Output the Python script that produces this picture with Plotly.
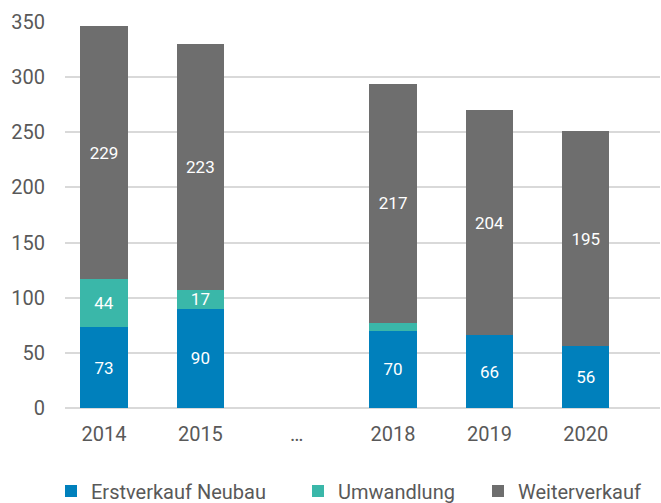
import plotly.graph_objects as go

# Verkäufe nach Art, in Stück
jahre = ["2014", "2015", "…", "2018", "2019", "2020"]
erstverkauf_neubau = [73, 90, None, 70, 66, 56]
umwandlung = [44, 17, None, 7, None, None]
weiterverkauf = [229, 223, None, 217, 204, 195]

# Nur die Werte beschriften, die groß genug für eine Beschriftung sind
umwandlung_text = ["44", "17", "", "", "", ""]

farbe_blau = "#0080BC"
farbe_tuerkis = "#3AB7A9"
farbe_grau = "#6E6E6E"
text_grau = "#595959"
schrift = "Roboto"

W, H = 661, 503


def labels(werte):
    return ["" if v is None else str(v) for v in werte]


fig = go.Figure()
fig.add_trace(go.Bar(
    name="Erstverkauf Neubau", x=jahre, y=erstverkauf_neubau,
    marker=dict(color=farbe_blau, line=dict(width=0)),
    text=labels(erstverkauf_neubau), legend="legend",
))
fig.add_trace(go.Bar(
    name="Umwandlung", x=jahre, y=umwandlung,
    marker=dict(color=farbe_tuerkis, line=dict(width=0)),
    text=umwandlung_text, legend="legend2",
))
fig.add_trace(go.Bar(
    name="Weiterverkauf", x=jahre, y=weiterverkauf,
    marker=dict(color=farbe_grau, line=dict(width=0)),
    text=labels(weiterverkauf), legend="legend3",
))
fig.update_traces(
    textposition="inside", insidetextanchor="middle",
    constraintext="none", showlegend=True,
    textfont=dict(family=schrift, size=17, color="white"),
    textangle=0, hoverinfo="skip",
)


def legende(links_px):
    # eine Legende pro Reihe, frei in Pixeln positioniert
    return dict(
        visible=True,
        orientation="h", xref="container", yref="container",
        x=links_px / W, xanchor="left", y=1 - 491 / H, yanchor="middle",
        font=dict(family=schrift, size=20, color=text_grau),
        bgcolor="rgba(0,0,0,0)", borderwidth=0,
    )


fig.update_layout(
    barmode="stack",
    bargap=0.51,
    showlegend=True,
    width=W, height=H,
    margin=dict(l=65, r=1, t=22, b=95),
    paper_bgcolor="white", plot_bgcolor="white",
    font=dict(family=schrift, size=20, color=text_grau),
    xaxis=dict(
        type="category", categoryorder="array", categoryarray=jahre,
        range=[-0.405, 5.77], showgrid=False, showline=False,
        ticks="", ticklabelstandoff=12,
        tickfont=dict(size=20, color=text_grau),
    ),
    yaxis=dict(
        range=[0, 350], tickvals=[0, 50, 100, 150, 200, 250, 300, 350],
        showgrid=True, gridcolor="#D9D9D9", gridwidth=1.5,
        zeroline=True, zerolinecolor="#D9D9D9", zerolinewidth=1.5,
        showline=False, ticks="", ticklabelstandoff=19,
        tickfont=dict(size=20, color=text_grau),
    ),
    legend=legende(51),
    legend2=legende(298),
    legend3=legende(478),
)

fig.write_html("out.html")
